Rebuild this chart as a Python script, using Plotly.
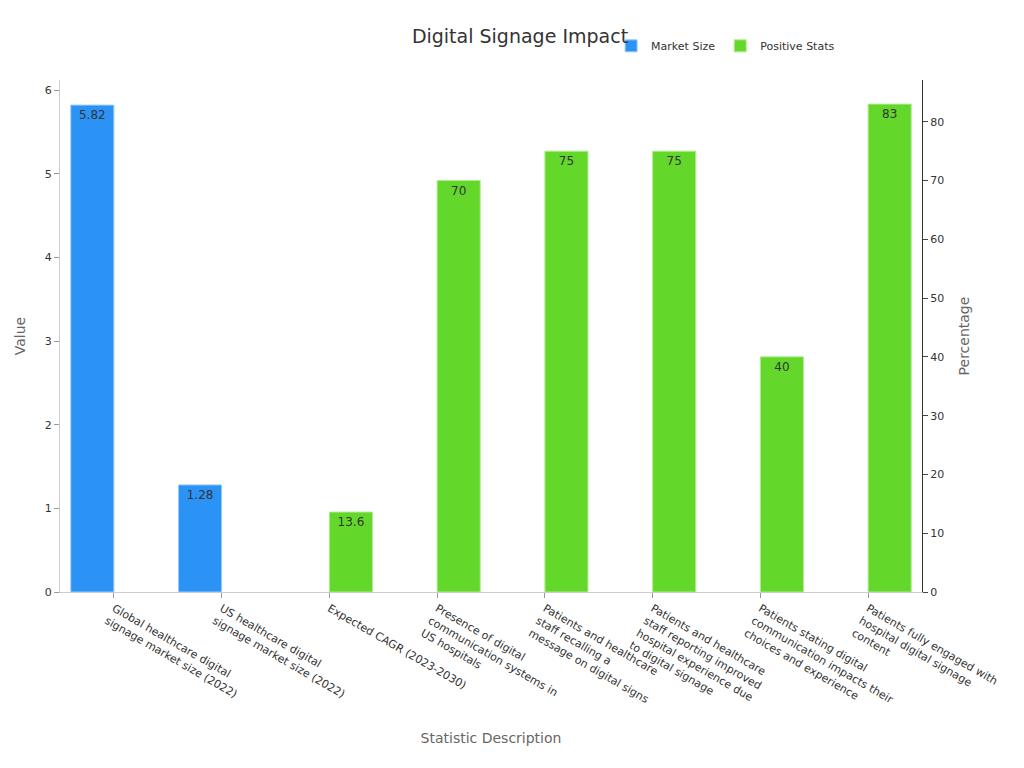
import plotly.graph_objects as go

categories = ["Global healthcare digital<br>signage market size (2022)",
"US healthcare digital<br>signage market size (2022)",
"Expected CAGR (2023-2030)",
"Presence of digital<br>communication systems in<br>US hospitals",
"Patients and healthcare<br>staff recalling a<br>message on digital signs",
"Patients and healthcare<br>staff reporting improved<br>hospital experience due<br>to digital signage",
"Patients stating digital<br>communication impacts their<br>choices and experience",
"Patients fully engaged with<br>hospital digital signage<br>content"]
market_cats = categories[:2]
market_vals = [5.82, 1.28]
pos_cats = categories[2:]
pos_vals = [13.6, 70, 75, 75, 40, 83]

fig = go.Figure()
fig.add_bar(x=market_cats, y=market_vals, name="Market Size", marker_color="#2b93f5",
            marker_line=dict(color="#9ccbf5", width=1), text=market_vals, textposition="inside",
            insidetextanchor="end", textfont=dict(color="#333", size=12), offsetgroup="a")
fig.add_bar(x=pos_cats, y=pos_vals, name="Positive Stats", marker_color="#63d82a",
            marker_line=dict(color="#b0ec90", width=1), text=pos_vals, textposition="inside",
            insidetextanchor="end", textfont=dict(color="#333", size=12), offsetgroup="b", yaxis="y2")
fig.update_layout(
    width=1024, height=768, barmode="group", bargap=0.2, plot_bgcolor="white", paper_bgcolor="white",
    font=dict(family="DejaVu Sans", color="#333", size=11),
    title=dict(text="Digital Signage Impact", x=0.5, y=0.972, font=dict(size=19)),
    margin=dict(l=52, r=110, t=72, b=184),
    legend=dict(orientation="h", x=0.905, xanchor="right", y=1.095, yanchor="top", font=dict(size=11)),
    xaxis=dict(categoryorder="array", categoryarray=categories, tickangle=30, showline=True,
               linecolor="#ccc", ticks="outside", ticklen=5, tickcolor="#999",
               title=dict(text="Statistic Description", font=dict(color="#666", size=14))),
    yaxis=dict(range=[0, 6.12], dtick=1, showgrid=False, showline=True, linecolor="#ccc",
               ticks="outside", ticklen=5, tickcolor="#999", zeroline=False,
               title=dict(text="Value", font=dict(color="#666", size=14))),
    yaxis2=dict(range=[0, 87.1], dtick=10, overlaying="y", side="right", showgrid=False,
                showline=True, linecolor="#333", ticks="outside", ticklen=5, zeroline=False,
                title=dict(text="Percentage", font=dict(color="#666", size=14))),
)
fig.write_html("out.html")
